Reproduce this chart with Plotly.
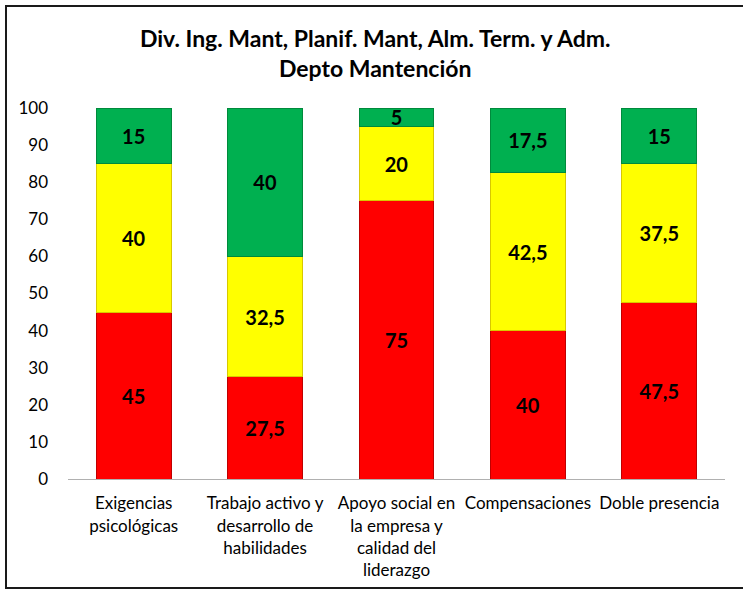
import plotly.graph_objects as go

# Dimensiones evaluadas (categorías del eje X)
categorias = [
    "Exigencias<br>psicológicas",
    "Trabajo activo y<br>desarrollo de<br>habilidades",
    "Apoyo social en<br>la empresa y<br>calidad del<br>liderazgo",
    "Compensaciones",
    "Doble presencia",
]

# Porcentajes por nivel de riesgo
riesgo_alto = [45, 27.5, 75, 40, 47.5]      # rojo
riesgo_medio = [40, 32.5, 20, 42.5, 37.5]   # amarillo
riesgo_bajo = [15, 40, 5, 17.5, 15]         # verde

y_ticks = [0, 10, 20, 30, 40, 50, 60, 70, 80, 90, 100]

titulo = "Div. Ing. Mant, Planif. Mant, Alm. Term. y Adm.<br>Depto Mantención"

FONT = "Lato"
W, H = 743, 591
# área de trazado en píxeles
PX_L, PX_R, PX_T, PX_B = 68, 725, 108, 479


def etiqueta(v):
    s = f"{v:g}"
    return s.replace(".", ",")


fig = go.Figure()

series = [
    (riesgo_alto, "#FF0000", "#C00000"),
    (riesgo_medio, "#FFFF00", "#D8C800"),
    (riesgo_bajo, "#00B050", "#008A3C"),
]
for valores, color, borde in series:
    fig.add_trace(go.Bar(
        x=categorias,
        y=valores,
        marker=dict(color=color, line=dict(color=borde, width=1)),
        text=[etiqueta(v) for v in valores],
        textposition="inside",
        insidetextanchor="middle",
        textangle=0,
        textfont=dict(family=FONT, size=20, color="black", weight="bold"),
        hoverinfo="skip",
        showlegend=False,
    ))

# Marco exterior del gráfico (en coordenadas de papel)
pw = PX_R - PX_L
ph = PX_B - PX_T


def px_x(x):
    return (x - PX_L) / pw


def px_y(y):
    return (PX_B - y) / ph


fig.add_shape(
    type="rect", xref="paper", yref="paper",
    x0=px_x(6), x1=px_x(760), y0=px_y(6), y1=px_y(588),
    line=dict(color="#1a1a1a", width=2), fillcolor="rgba(0,0,0,0)",
    layer="below",
)

fig.update_layout(
    width=W, height=H,
    barmode="stack",
    bargap=0.43,
    paper_bgcolor="white",
    plot_bgcolor="white",
    margin=dict(l=PX_L, r=W - PX_R, t=PX_T, b=H - PX_B, pad=0),
    uniformtext=dict(minsize=20, mode="show"),
    title=dict(
        text=titulo,
        x=0.505, xanchor="center",
        y=1 - 47 / H, yanchor="middle",
        font=dict(family=FONT, size=23, color="black", weight="bold"),
    ),
    font=dict(family=FONT, size=17, color="black"),
    xaxis=dict(
        showline=True, linecolor="#B0B0B0", linewidth=1,
        showgrid=False, ticks="", zeroline=False,
        ticklabelstandoff=9,
        tickfont=dict(family=FONT, size=17, color="black"),
    ),
    yaxis=dict(
        range=[0, 100], tickvals=y_ticks,
        showline=False, showgrid=False, zeroline=False, ticks="",
        ticklabelstandoff=19,
        tickfont=dict(family=FONT, size=17, color="black"),
    ),
)

fig.write_html("out.html")
